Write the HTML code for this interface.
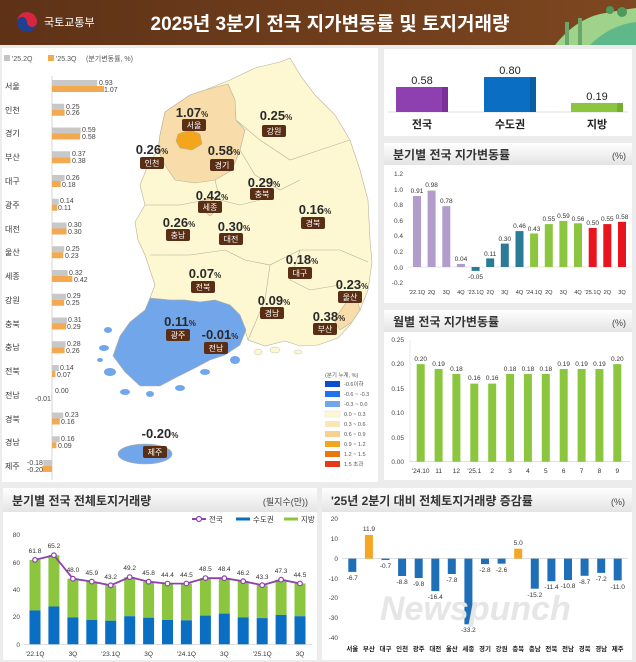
<!DOCTYPE html>
<html><head><meta charset="utf-8"><style>
body{margin:0;background:#ececec;}
svg{display:block;font-family:"Liberation Sans","Noto Sans CJK KR",sans-serif;}
</style></head><body>
<svg width="636" height="662" viewBox="0 0 636 662" xmlns="http://www.w3.org/2000/svg">
<defs>
<linearGradient id="hd" x1="0" x2="1"><stop offset="0" stop-color="#5e3217"/><stop offset="1" stop-color="#7d4720"/></linearGradient>
<linearGradient id="ph" x1="0" y1="0" x2="0" y2="1"><stop offset="0" stop-color="#ffffff"/><stop offset="1" stop-color="#e4e4e4"/></linearGradient>
</defs>
<rect width="636" height="662" fill="#ececec"/>
<rect width="636" height="45" fill="url(#hd)"/>
<circle cx="27" cy="22" r="10" fill="#1f3f8f"/>
<path d="M17 22 A10 10 0 0 1 37 22 A5 5 0 0 1 27 22 A5 5 0 0 0 17 22Z" fill="#d7263d"/>
<text x="44" y="26" font-size="11" fill="#fff">국토교통부</text>
<text x="330" y="30" font-size="19" font-weight="bold" fill="#fff" text-anchor="middle">2025년 3분기 전국 지가변동률 및 토지거래량</text>
<path d="M555 45 Q575 20 600 14 Q620 10 636 8 L636 45Z" fill="#9fd28a"/>
<path d="M590 45 Q610 25 636 22 L636 45Z" fill="#5fb88a"/>
<rect x="565" y="22" width="4" height="23" fill="#6aa86a"/><rect x="578" y="18" width="4" height="27" fill="#6aa86a"/>
<circle cx="622" cy="12" r="5" fill="#4c9a5c"/><circle cx="610" cy="10" r="4" fill="#4c9a5c"/>

<rect x="2" y="48" width="376" height="434" fill="#fff"/>
<g font-size="7" fill="#555">
<rect x="4" y="55" width="6" height="6" fill="#c4c4c4"/><text x="12" y="61">'25.2Q</text>
<rect x="48" y="55" width="6" height="6" fill="#f2a950"/><text x="56" y="61">'25.3Q</text>
<text x="86" y="61">(분기변동률, %)</text>
</g>
<line x1="52" y1="76" x2="52" y2="480" stroke="#ccc" stroke-width="0.8"/>
<g font-size="8" fill="#333">
<text x="5" y="89">서울</text><text x="5" y="113">인천</text><text x="5" y="136">경기</text><text x="5" y="160">부산</text><text x="5" y="184">대구</text><text x="5" y="208">광주</text><text x="5" y="232">대전</text><text x="5" y="255">울산</text><text x="5" y="279">세종</text><text x="5" y="303">강원</text><text x="5" y="327">충북</text><text x="5" y="350">충남</text><text x="5" y="374">전북</text><text x="5" y="398">전남</text><text x="5" y="422">경북</text><text x="5" y="445">경남</text><text x="5" y="469">제주</text>
</g>
<g fill="#c8c8c8">
<rect x="52" y="80" width="45.2" height="6"/><rect x="52" y="103.75" width="12.2" height="6"/><rect x="52" y="127.5" width="28.7" height="6"/><rect x="52" y="151.25" width="18" height="6"/><rect x="52" y="175" width="12.6" height="6"/><rect x="52" y="198.75" width="6.8" height="6"/><rect x="52" y="222.5" width="14.6" height="6"/><rect x="52" y="246.25" width="12.2" height="6"/><rect x="52" y="270" width="15.6" height="6"/><rect x="52" y="293.75" width="14.1" height="6"/><rect x="52" y="317.5" width="15.1" height="6"/><rect x="52" y="341.25" width="13.6" height="6"/><rect x="52" y="365" width="6.8" height="6"/><rect x="52" y="412.5" width="11.2" height="6"/><rect x="52" y="436.25" width="7.8" height="6"/><rect x="43.3" y="460" width="8.7" height="6"/>
</g>
<g fill="#f2a950">
<rect x="52" y="86" width="52" height="6"/><rect x="52" y="109.75" width="12.6" height="6"/><rect x="52" y="133.5" width="28.2" height="6"/><rect x="52" y="157.25" width="18.5" height="6"/><rect x="52" y="181" width="8.7" height="6"/><rect x="52" y="204.75" width="5.3" height="6"/><rect x="52" y="228.5" width="14.6" height="6"/><rect x="52" y="252.25" width="11.2" height="6"/><rect x="52" y="276" width="20.4" height="6"/><rect x="52" y="299.75" width="12.2" height="6"/><rect x="52" y="323.5" width="14.1" height="6"/><rect x="52" y="347.25" width="12.6" height="6"/><rect x="52" y="371" width="3.4" height="6"/><rect x="51.5" y="394.75" width="0.5" height="6"/><rect x="52" y="418.5" width="7.8" height="6"/><rect x="52" y="442.25" width="4.4" height="6"/><rect x="42.3" y="466" width="9.7" height="6"/>
</g>
<g font-size="7" fill="#444">
<text x="99" y="85">0.93</text><text x="104" y="92">1.07</text>
<text x="66" y="109">0.25</text><text x="66" y="115">0.26</text>
<text x="82" y="132">0.59</text><text x="82" y="139">0.58</text>
<text x="72" y="156">0.37</text><text x="72" y="163">0.38</text>
<text x="66" y="180">0.26</text><text x="62" y="187">0.18</text>
<text x="60" y="203">0.14</text><text x="58" y="210">0.11</text>
<text x="68" y="227">0.30</text><text x="68" y="234">0.30</text>
<text x="66" y="251">0.25</text><text x="65" y="258">0.23</text>
<text x="69" y="275">0.32</text><text x="74" y="282">0.42</text>
<text x="67" y="298">0.29</text><text x="66" y="305">0.25</text>
<text x="68" y="322">0.31</text><text x="67" y="329">0.29</text>
<text x="67" y="346">0.28</text><text x="66" y="353">0.26</text>
<text x="60" y="370">0.14</text><text x="57" y="377">0.07</text>
<text x="55" y="393">0.00</text><text x="35" y="401">-0.01</text>
<text x="65" y="417">0.23</text><text x="61" y="424">0.16</text>
<text x="61" y="441">0.16</text><text x="58" y="448">0.09</text>
<text x="27" y="465">-0.18</text><text x="27" y="472">-0.20</text>
</g>

<g stroke="#b8b09a" stroke-width="0.6">
<path d="M165 112 L190 95 L205 90 L230 80 L255 68 L280 62 L290 58 L300 75 L315 95 L335 115 L350 140 L360 170 L368 200 L370 240 L372 262 L368 290 L360 310 L350 325 L338 338 L318 345 L300 346 L285 341 L265 346 L248 340 L240 315 L230 305 L215 300 L200 302 L185 300 L170 300 L150 298 L155 285 L150 270 L145 255 L138 240 L135 222 L145 205 L140 185 L148 165 L158 150 L160 135Z" fill="#fdf7d2"/>
<path d="M165 112 L190 95 L205 90 L228 84 L235 100 L236 120 L245 130 L240 150 L232 170 L215 180 L195 183 L175 180 L165 165 L158 150 L160 135Z" fill="#f8ddaa"/>
<path d="M178 134 L190 130 L200 134 L202 144 L192 150 L180 148 L176 141Z" fill="#f3a51c"/>
<path d="M205 200 L214 198 L217 210 L210 216 L203 210Z" fill="#f8ddaa"/>
<path d="M348 300 L356 296 L360 310 L352 322 L340 330 L334 320Z" fill="#f8ddaa"/>
<path d="M150 298 L170 300 L185 300 L200 302 L215 300 L230 305 L240 315 L246 330 L240 345 L225 355 L210 360 L195 368 L175 378 L160 386 L140 386 L125 372 L113 356 L120 336 L130 322 L145 310Z" fill="#72a6ea"/>
<ellipse cx="145" cy="454" rx="27" ry="10" fill="#72a6ea"/>
<path d="M236 120 L260 140 L290 160 L320 150 L350 140 M240 150 L255 175 L280 190 L300 180 M215 180 L220 200 L240 205 L260 200 M145 205 L180 205 L205 200 M150 255 L190 255 L225 250 L245 260 M245 260 L270 265 L300 250 L340 250 L368 262 M270 265 L265 300 L248 340 M300 250 L290 280 L310 290 L340 285" fill="none"/>
</g>
<g fill="#72a6ea">
<ellipse cx="108" cy="330" rx="4" ry="3"/><ellipse cx="104" cy="348" rx="5" ry="3"/><ellipse cx="110" cy="372" rx="6" ry="4"/><ellipse cx="125" cy="392" rx="5" ry="3"/><ellipse cx="150" cy="394" rx="4" ry="3"/><ellipse cx="180" cy="388" rx="5" ry="3"/><ellipse cx="205" cy="372" rx="5" ry="3"/><ellipse cx="235" cy="360" rx="5" ry="4"/><ellipse cx="100" cy="360" rx="3" ry="2"/>
</g>
<g fill="#fdf7d2" stroke="#b8b09a" stroke-width="0.4">
<ellipse cx="258" cy="352" rx="4" ry="3"/><ellipse cx="275" cy="350" rx="5" ry="3"/><ellipse cx="298" cy="352" rx="4" ry="2"/>
</g>
<g font-weight="bold" fill="#2a2a2a" text-anchor="middle" font-size="13">
<text x="192" y="117">1.07<tspan font-size="8">%</tspan></text>
<text x="276" y="120">0.25<tspan font-size="8">%</tspan></text>
<text x="152" y="154">0.26<tspan font-size="8">%</tspan></text>
<text x="224" y="155">0.58<tspan font-size="8">%</tspan></text>
<text x="264" y="187">0.29<tspan font-size="8">%</tspan></text>
<text x="212" y="200">0.42<tspan font-size="8">%</tspan></text>
<text x="315" y="214">0.16<tspan font-size="8">%</tspan></text>
<text x="179" y="227">0.26<tspan font-size="8">%</tspan></text>
<text x="234" y="231">0.30<tspan font-size="8">%</tspan></text>
<text x="302" y="264">0.18<tspan font-size="8">%</tspan></text>
<text x="205" y="278">0.07<tspan font-size="8">%</tspan></text>
<text x="352" y="289">0.23<tspan font-size="8">%</tspan></text>
<text x="274" y="305">0.09<tspan font-size="8">%</tspan></text>
<text x="329" y="321">0.38<tspan font-size="8">%</tspan></text>
<text x="180" y="326">0.11<tspan font-size="8">%</tspan></text>
<text x="220" y="339">-0.01<tspan font-size="8">%</tspan></text>
<text x="160" y="438">-0.20<tspan font-size="8">%</tspan></text>
</g>
<g fill="#5a2e14">
<rect x="182" y="119" width="24" height="12" rx="2"/><rect x="262" y="125" width="24" height="12" rx="2"/><rect x="140" y="157" width="24" height="12" rx="2"/><rect x="210" y="159" width="24" height="12" rx="2"/><rect x="250" y="188" width="24" height="12" rx="2"/><rect x="198" y="201" width="24" height="12" rx="2"/><rect x="301" y="217" width="24" height="12" rx="2"/><rect x="166" y="229" width="24" height="12" rx="2"/><rect x="219" y="233" width="24" height="12" rx="2"/><rect x="288" y="267" width="24" height="12" rx="2"/><rect x="191" y="281" width="24" height="12" rx="2"/><rect x="338" y="291" width="24" height="12" rx="2"/><rect x="260" y="307" width="24" height="12" rx="2"/><rect x="313" y="323" width="24" height="12" rx="2"/><rect x="166" y="329" width="24" height="12" rx="2"/><rect x="204" y="342" width="24" height="12" rx="2"/><rect x="143" y="446" width="24" height="12" rx="2"/>
</g>
<g fill="#fff" font-size="8" text-anchor="middle">
<text x="194" y="128">서울</text><text x="274" y="134">강원</text><text x="152" y="166">인천</text><text x="222" y="168">경기</text><text x="262" y="197">충북</text><text x="210" y="210">세종</text><text x="313" y="226">경북</text><text x="178" y="238">충남</text><text x="231" y="242">대전</text><text x="300" y="276">대구</text><text x="203" y="290">전북</text><text x="350" y="300">울산</text><text x="272" y="316">경남</text><text x="325" y="332">부산</text><text x="178" y="338">광주</text><text x="216" y="351">전남</text><text x="155" y="455">제주</text>
</g>
<g font-size="5.5" fill="#555">
<text x="325" y="377">(분기 누계, %)</text>
<rect x="325" y="381" width="15" height="6" fill="#0b4fd0"/><text x="344" y="386">-0.6이하</text>
<rect x="325" y="391" width="15" height="6" fill="#1f74ee"/><text x="344" y="396">-0.6 ~ -0.3</text>
<rect x="325" y="401" width="15" height="6" fill="#72a6ea"/><text x="344" y="406">-0.3 ~ 0.0</text>
<rect x="325" y="411" width="15" height="6" fill="#fdf7d2" stroke="#ddd" stroke-width="0.4"/><text x="344" y="416">0.0 ~ 0.3</text>
<rect x="325" y="421" width="15" height="6" fill="#fbe6b5"/><text x="344" y="426">0.3 ~ 0.6</text>
<rect x="325" y="431" width="15" height="6" fill="#f7d28f"/><text x="344" y="436">0.6 ~ 0.9</text>
<rect x="325" y="441" width="15" height="6" fill="#f3a51c"/><text x="344" y="446">0.9 ~ 1.2</text>
<rect x="325" y="451" width="15" height="6" fill="#e8750f"/><text x="344" y="456">1.2 ~ 1.5</text>
<rect x="325" y="461" width="15" height="6" fill="#e43a1a"/><text x="344" y="466">1.5 초과</text>
</g>

<rect x="384" y="49" width="248" height="87" fill="#fff"/>
<line x1="388" y1="112" x2="628" y2="112" stroke="#ddd"/>
<rect x="396" y="87" width="52" height="25" fill="#8e3fb0"/><rect x="442" y="87" width="6" height="25" fill="#7a2f9a"/>
<rect x="484" y="77" width="52" height="35" fill="#0a6fc2"/><rect x="530" y="77" width="6" height="35" fill="#0a5ea6"/>
<rect x="571" y="103" width="52" height="9" fill="#8cc63f"/><rect x="617" y="103" width="6" height="9" fill="#76ad31"/>
<g font-size="11" fill="#222" text-anchor="middle">
<text x="422" y="84">0.58</text><text x="510" y="74">0.80</text><text x="597" y="100">0.19</text>
</g>
<g font-size="11" font-weight="bold" fill="#222" text-anchor="middle">
<text x="422" y="128">전국</text><text x="510" y="128">수도권</text><text x="597" y="128">지방</text>
</g>

<rect x="384" y="143" width="248" height="160" fill="#fff"/>
<rect x="384" y="143" width="248" height="22" fill="url(#ph)"/>
<text x="393" y="159" font-size="12" font-weight="bold" fill="#333">분기별 전국 지가변동률</text>
<text x="626" y="159" font-size="9" fill="#444" text-anchor="end">(%)</text>
<g font-size="6.5" fill="#444" text-anchor="end">
<text x="403" y="176">1.2</text><text x="403" y="192">1.0</text><text x="403" y="207">0.8</text><text x="403" y="223">0.6</text><text x="403" y="238">0.4</text><text x="403" y="254">0.2</text><text x="403" y="270">0.0</text><text x="403" y="285">-0.2</text>
</g>
<line x1="408" y1="267" x2="630" y2="267" stroke="#ccc" stroke-width="0.6"/>
<g fill="#b19ccb"><rect x="413" y="196" width="8" height="71"/><rect x="427.6" y="190.6" width="8" height="76.4"/><rect x="442.3" y="206.2" width="8" height="60.8"/><rect x="456.9" y="263.9" width="8" height="3.1"/></g>
<g fill="#2a7b96"><rect x="471.6" y="267" width="8" height="3.9"/><rect x="486.2" y="258.4" width="8" height="8.6"/><rect x="500.8" y="243.6" width="8" height="23.4"/><rect x="515.5" y="231.1" width="8" height="35.9"/></g>
<g fill="#8cc63f"><rect x="530.1" y="233.5" width="8" height="33.5"/><rect x="544.8" y="224.1" width="8" height="42.9"/><rect x="559.4" y="221" width="8" height="46"/><rect x="574" y="223.3" width="8" height="43.7"/></g>
<g fill="#e8141e"><rect x="588.7" y="228" width="8" height="39"/><rect x="603.3" y="224.1" width="8" height="42.9"/><rect x="618" y="221.8" width="8" height="45.2"/></g>
<g font-size="6.5" fill="#333" text-anchor="middle">
<text x="417" y="193">0.91</text><text x="431.6" y="187">0.98</text><text x="446.3" y="203">0.78</text><text x="460.9" y="261">0.04</text><text x="475.6" y="279">-0.05</text><text x="490.2" y="256">0.11</text><text x="504.8" y="241">0.30</text><text x="519.5" y="228">0.46</text><text x="534.1" y="231">0.43</text><text x="548.8" y="221">0.55</text><text x="563.4" y="218">0.59</text><text x="578" y="221">0.56</text><text x="592.7" y="225">0.50</text><text x="607.3" y="221">0.55</text><text x="622" y="219">0.58</text>
</g>
<g font-size="5.6" fill="#333" text-anchor="middle">
<text x="417" y="294">'22.1Q</text><text x="431.6" y="294">2Q</text><text x="446.3" y="294">3Q</text><text x="460.9" y="294">4Q</text><text x="475.6" y="294">'23.1Q</text><text x="490.2" y="294">2Q</text><text x="504.8" y="294">3Q</text><text x="519.5" y="294">4Q</text><text x="534.1" y="294">'24.1Q</text><text x="548.8" y="294">2Q</text><text x="563.4" y="294">3Q</text><text x="578" y="294">4Q</text><text x="592.7" y="294">'25.1Q</text><text x="607.3" y="294">2Q</text><text x="622" y="294">3Q</text>
</g>

<rect x="384" y="310" width="248" height="170" fill="#fff"/>
<rect x="384" y="310" width="248" height="22" fill="url(#ph)"/>
<text x="393" y="326" font-size="12" font-weight="bold" fill="#333">월별 전국 지가변동률</text>
<text x="626" y="326" font-size="9" fill="#444" text-anchor="end">(%)</text>
<g font-size="6.5" fill="#444" text-anchor="end">
<text x="404" y="342">0.25</text><text x="404" y="366">0.20</text><text x="404" y="391">0.15</text><text x="404" y="415">0.10</text><text x="404" y="440">0.05</text><text x="404" y="464">0.00</text>
</g>
<line x1="410" y1="340" x2="410" y2="462" stroke="#ddd" stroke-width="0.6"/>
<line x1="410" y1="461.7" x2="630" y2="461.7" stroke="#ccc" stroke-width="0.6"/>
<g fill="#8cc63f">
<rect x="416.7" y="364.1" width="8" height="97.6"/><rect x="434.6" y="369" width="8" height="92.7"/><rect x="452.4" y="373.9" width="8" height="87.8"/><rect x="470.3" y="383.6" width="8" height="78.1"/><rect x="488.2" y="383.6" width="8" height="78.1"/><rect x="506.1" y="373.9" width="8" height="87.8"/><rect x="523.9" y="373.9" width="8" height="87.8"/><rect x="541.8" y="373.9" width="8" height="87.8"/><rect x="559.7" y="369" width="8" height="92.7"/><rect x="577.6" y="369" width="8" height="92.7"/><rect x="595.4" y="369" width="8" height="92.7"/><rect x="613.3" y="364.1" width="8" height="97.6"/>
</g>
<g font-size="6.5" fill="#333" text-anchor="middle">
<text x="420.7" y="361">0.20</text><text x="438.6" y="366">0.19</text><text x="456.4" y="371">0.18</text><text x="474.3" y="380">0.16</text><text x="492.2" y="380">0.16</text><text x="510.1" y="371">0.18</text><text x="527.9" y="371">0.18</text><text x="545.8" y="371">0.18</text><text x="563.7" y="366">0.19</text><text x="581.6" y="366">0.19</text><text x="599.4" y="366">0.19</text><text x="617.3" y="361">0.20</text>
<text x="420.7" y="473">'24.10</text><text x="438.6" y="473">11</text><text x="456.4" y="473">12</text><text x="474.3" y="473">'25.1</text><text x="492.2" y="473">2</text><text x="510.1" y="473">3</text><text x="527.9" y="473">4</text><text x="545.8" y="473">5</text><text x="563.7" y="473">6</text><text x="581.6" y="473">7</text><text x="599.4" y="473">8</text><text x="617.3" y="473">9</text>
</g>

<rect x="3" y="488" width="314" height="172" fill="#fff"/>
<rect x="3" y="488" width="314" height="24" fill="url(#ph)"/>
<text x="12" y="505" font-size="12" font-weight="bold" fill="#333">분기별 전국 전체토지거래량</text>
<text x="308" y="505" font-size="9" fill="#444" text-anchor="end">(필지수(만))</text>
<g font-size="7.5" fill="#333">
<line x1="192" y1="519" x2="206" y2="519" stroke="#8e3fb0" stroke-width="2"/><circle cx="199" cy="519" r="2.5" fill="#fff" stroke="#8e3fb0" stroke-width="1.2"/><text x="209" y="522">전국</text>
<line x1="236" y1="519" x2="250" y2="519" stroke="#0a6fc2" stroke-width="3"/><text x="253" y="522">수도권</text>
<line x1="284" y1="519" x2="298" y2="519" stroke="#8cc63f" stroke-width="3"/><text x="301" y="522">지방</text>
</g>
<g font-size="6.5" fill="#444" text-anchor="end">
<text x="20" y="537">80</text><text x="20" y="565">60</text><text x="20" y="592">40</text><text x="20" y="619">20</text><text x="20" y="647">0</text>
</g>
<line x1="24" y1="644.3" x2="312" y2="644.3" stroke="#ccc" stroke-width="0.6"/>
<g fill="#8cc63f">
<rect x="29.5" y="559.9" width="11" height="50.5"/><rect x="48.4" y="555.2" width="11" height="51.3"/><rect x="67.4" y="578.7" width="11" height="38.8"/><rect x="86.3" y="581.6" width="11" height="38.4"/><rect x="105.2" y="585.3" width="11" height="35.4"/><rect x="124.2" y="577.1" width="11" height="39.1"/><rect x="143.1" y="581.7" width="11" height="36"/><rect x="162" y="583.6" width="11" height="36.4"/><rect x="180.9" y="583.5" width="11" height="36.8"/><rect x="199.9" y="578.1" width="11" height="37.5"/><rect x="218.8" y="578.2" width="11" height="35.4"/><rect x="237.7" y="581.2" width="11" height="36.2"/><rect x="256.7" y="585.2" width="11" height="32.9"/><rect x="275.6" y="579.7" width="11" height="35.2"/><rect x="294.5" y="583.5" width="11" height="32.7"/>
</g>
<g fill="#0a6fc2">
<rect x="29.5" y="610.4" width="11" height="33.9"/><rect x="48.4" y="606.5" width="11" height="37.8"/><rect x="67.4" y="617.5" width="11" height="26.8"/><rect x="86.3" y="620" width="11" height="24.3"/><rect x="105.2" y="620.7" width="11" height="23.6"/><rect x="124.2" y="616.2" width="11" height="28.1"/><rect x="143.1" y="617.7" width="11" height="26.6"/><rect x="162" y="620" width="11" height="24.3"/><rect x="180.9" y="620.3" width="11" height="24"/><rect x="199.9" y="615.6" width="11" height="28.7"/><rect x="218.8" y="613.6" width="11" height="30.7"/><rect x="237.7" y="617.4" width="11" height="26.9"/><rect x="256.7" y="618.1" width="11" height="26.2"/><rect x="275.6" y="614.9" width="11" height="29.4"/><rect x="294.5" y="616.2" width="11" height="28.1"/>
</g>
<polyline points="35,559.9 53.9,555.2 72.9,578.7 91.8,581.6 110.7,585.3 129.7,577.1 148.6,581.7 167.5,583.6 186.4,583.5 205.4,578.1 224.3,578.2 243.2,581.2 262.2,585.2 281.1,579.7 300,583.5" fill="none" stroke="#8e3fb0" stroke-width="1.8"/>
<g fill="#fff" stroke="#8e3fb0" stroke-width="1.2">
<circle cx="35" cy="559.9" r="2.3"/><circle cx="53.9" cy="555.2" r="2.3"/><circle cx="72.9" cy="578.7" r="2.3"/><circle cx="91.8" cy="581.6" r="2.3"/><circle cx="110.7" cy="585.3" r="2.3"/><circle cx="129.7" cy="577.1" r="2.3"/><circle cx="148.6" cy="581.7" r="2.3"/><circle cx="167.5" cy="583.6" r="2.3"/><circle cx="186.4" cy="583.5" r="2.3"/><circle cx="205.4" cy="578.1" r="2.3"/><circle cx="224.3" cy="578.2" r="2.3"/><circle cx="243.2" cy="581.2" r="2.3"/><circle cx="262.2" cy="585.2" r="2.3"/><circle cx="281.1" cy="579.7" r="2.3"/><circle cx="300" cy="583.5" r="2.3"/>
</g>
<g font-size="6.5" fill="#333" text-anchor="middle">
<text x="35" y="553">61.8</text><text x="53.9" y="548">65.2</text><text x="72.9" y="572">48.0</text><text x="91.8" y="575">45.9</text><text x="110.7" y="579">43.2</text><text x="129.7" y="570">49.2</text><text x="148.6" y="575">45.8</text><text x="167.5" y="577">44.4</text><text x="186.4" y="577">44.5</text><text x="205.4" y="571">48.5</text><text x="224.3" y="571">48.4</text><text x="243.2" y="575">46.2</text><text x="262.2" y="579">43.3</text><text x="281.1" y="573">47.3</text><text x="300" y="577">44.5</text>
<text x="35" y="656">'22.1Q</text><text x="72.9" y="656">3Q</text><text x="110.7" y="656">'23.1Q</text><text x="148.6" y="656">3Q</text><text x="186.4" y="656">'24.1Q</text><text x="224.3" y="656">3Q</text><text x="262.2" y="656">'25.1Q</text><text x="300" y="656">3Q</text>
</g>

<rect x="322" y="488" width="310" height="172" fill="#fff"/>
<rect x="322" y="488" width="310" height="24" fill="url(#ph)"/>
<text x="331" y="505" font-size="12" font-weight="bold" fill="#333">'25년 2분기 대비 전체토지거래량 증감률</text>
<text x="625" y="505" font-size="9" fill="#444" text-anchor="end">(%)</text>
<g font-size="6.5" fill="#444" text-anchor="end">
<text x="338" y="521">20</text><text x="338" y="541">10</text><text x="338" y="561">0</text><text x="338" y="581">-10</text><text x="338" y="600">-20</text><text x="338" y="620">-30</text><text x="338" y="640">-40</text>
</g>
<line x1="342" y1="558.6" x2="628" y2="558.6" stroke="#ccc" stroke-width="0.6"/>
<g fill="#1f6fb8">
<rect x="348.3" y="558.6" width="8" height="13.3"/><rect x="381.5" y="558.6" width="8" height="1.4"/><rect x="398.1" y="558.6" width="8" height="17.4"/><rect x="414.7" y="558.6" width="8" height="19.4"/><rect x="431.3" y="558.6" width="8" height="32.5"/><rect x="447.8" y="558.6" width="8" height="15.4"/><rect x="464.4" y="558.6" width="8" height="65.7"/><rect x="481" y="558.6" width="8" height="5.5"/><rect x="497.6" y="558.6" width="8" height="5.1"/><rect x="530.8" y="558.6" width="8" height="30.1"/><rect x="547.4" y="558.6" width="8" height="22.6"/><rect x="564" y="558.6" width="8" height="21.4"/><rect x="580.6" y="558.6" width="8" height="17.2"/><rect x="597.2" y="558.6" width="8" height="14.3"/><rect x="613.7" y="558.6" width="8" height="21.8"/>
</g>
<g fill="#f5a623"><rect x="364.9" y="535" width="8" height="23.6"/><rect x="514.2" y="548.7" width="8" height="9.9"/></g>
<text x="380" y="620" font-size="34" font-style="italic" font-weight="bold" fill="#e6e6e6">Newspunch</text>
<g font-size="6.5" fill="#333" text-anchor="middle">
<text x="352.3" y="580">-6.7</text><text x="368.9" y="531">11.9</text><text x="385.5" y="568">-0.7</text><text x="402.1" y="584">-8.8</text><text x="418.7" y="586">-9.8</text><text x="435.3" y="599">-16.4</text><text x="451.8" y="582">-7.8</text><text x="468.4" y="632">-33.2</text><text x="485" y="572">-2.8</text><text x="501.6" y="572">-2.6</text><text x="518.2" y="545">5.0</text><text x="534.8" y="597">-15.2</text><text x="551.4" y="589">-11.4</text><text x="568" y="588">-10.8</text><text x="584.6" y="584">-8.7</text><text x="601.2" y="581">-7.2</text><text x="617.7" y="589">-11.0</text>
</g>
<g font-size="6.5" fill="#222" text-anchor="middle" font-weight="bold">
<text x="352.3" y="651">서울</text><text x="368.9" y="651">부산</text><text x="385.5" y="651">대구</text><text x="402.1" y="651">인천</text><text x="418.7" y="651">광주</text><text x="435.3" y="651">대전</text><text x="451.8" y="651">울산</text><text x="468.4" y="651">세종</text><text x="485" y="651">경기</text><text x="501.6" y="651">강원</text><text x="518.2" y="651">충북</text><text x="534.8" y="651">충남</text><text x="551.4" y="651">전북</text><text x="568" y="651">전남</text><text x="584.6" y="651">경북</text><text x="601.2" y="651">경남</text><text x="617.7" y="651">제주</text>
</g>
</svg>
</body></html>
